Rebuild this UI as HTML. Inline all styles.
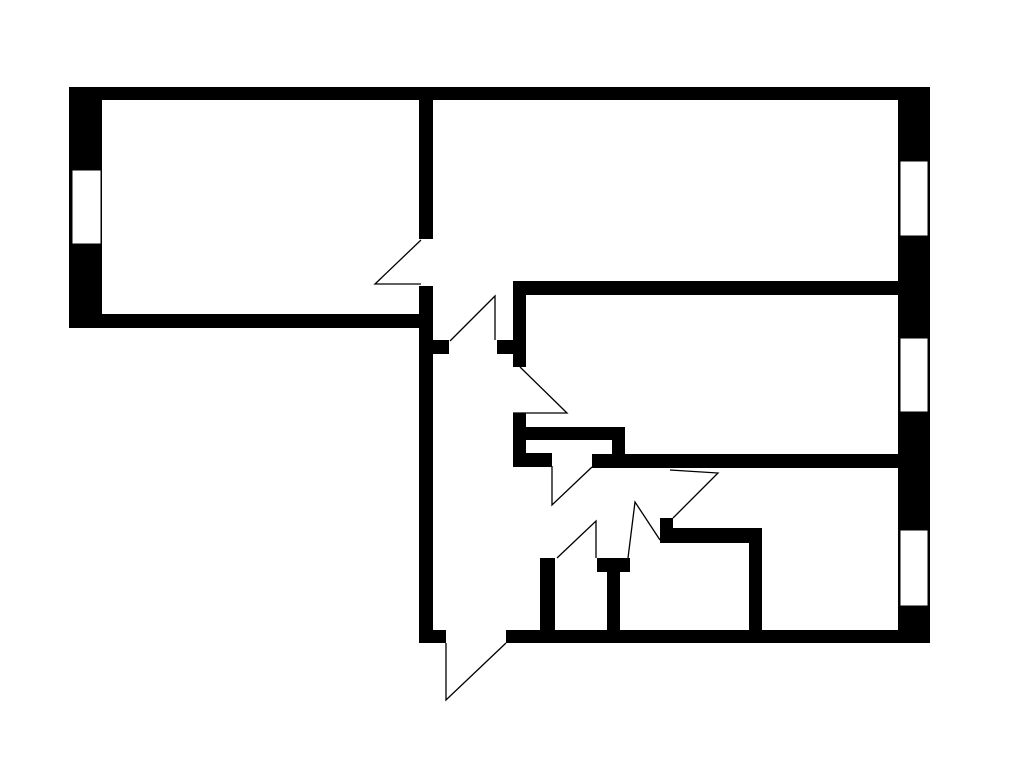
<!DOCTYPE html>
<html><head><meta charset="utf-8"><style>html,body{margin:0;padding:0;background:#fff;}svg{display:block}</style></head>
<body>
<svg width="1020" height="768" viewBox="0 0 1020 768" xmlns="http://www.w3.org/2000/svg">
<g fill="#000">
<rect x="69" y="87" width="861" height="13"/>
<rect x="69" y="87" width="33" height="241"/>
<rect x="69" y="314" width="364" height="14"/>
<rect x="419" y="87" width="14" height="152"/>
<rect x="419" y="286" width="14" height="357"/>
<rect x="898" y="87" width="32" height="556"/>
<rect x="419" y="630" width="27" height="13"/>
<rect x="506" y="630" width="424" height="13"/>
<rect x="433" y="340" width="16" height="14"/>
<rect x="497" y="340" width="29" height="14"/>
<rect x="513" y="281" width="13" height="86"/>
<rect x="513" y="281" width="385" height="14"/>
<rect x="513" y="413" width="13" height="54"/>
<rect x="513" y="427" width="112" height="13"/>
<rect x="612" y="427" width="13" height="30"/>
<rect x="513" y="453" width="39" height="14"/>
<rect x="592" y="454" width="306" height="14"/>
<rect x="660" y="518" width="13" height="25"/>
<rect x="660" y="528" width="102" height="15"/>
<rect x="749" y="528" width="13" height="110"/>
<rect x="540" y="558" width="15" height="75"/>
<rect x="597" y="558" width="33" height="14"/>
<rect x="607" y="558" width="13" height="75"/>
</g>
<g fill="#fff" stroke="#000" stroke-width="1">
<rect x="72" y="170" width="29" height="74"/>
<rect x="900" y="161" width="28" height="75"/>
<rect x="900" y="338" width="28" height="74"/>
<rect x="900" y="530" width="28" height="76"/>
</g>
<g fill="none" stroke="#000" stroke-width="1.3">
<polyline points="421,240 375,284 421,284"/>
<polyline points="450,341 495,296 495,340"/>
<polyline points="520,367 567,413 513,413"/>
<polyline points="552,466 552,505 592,467"/>
<polyline points="670,470 718,473 673,518"/>
<polyline points="557,558 596,521 596,558"/>
<polyline points="628,558 635,502 660,540"/>
<polyline points="446,643 446,700 506,643"/>
</g>
</svg>
</body></html>
